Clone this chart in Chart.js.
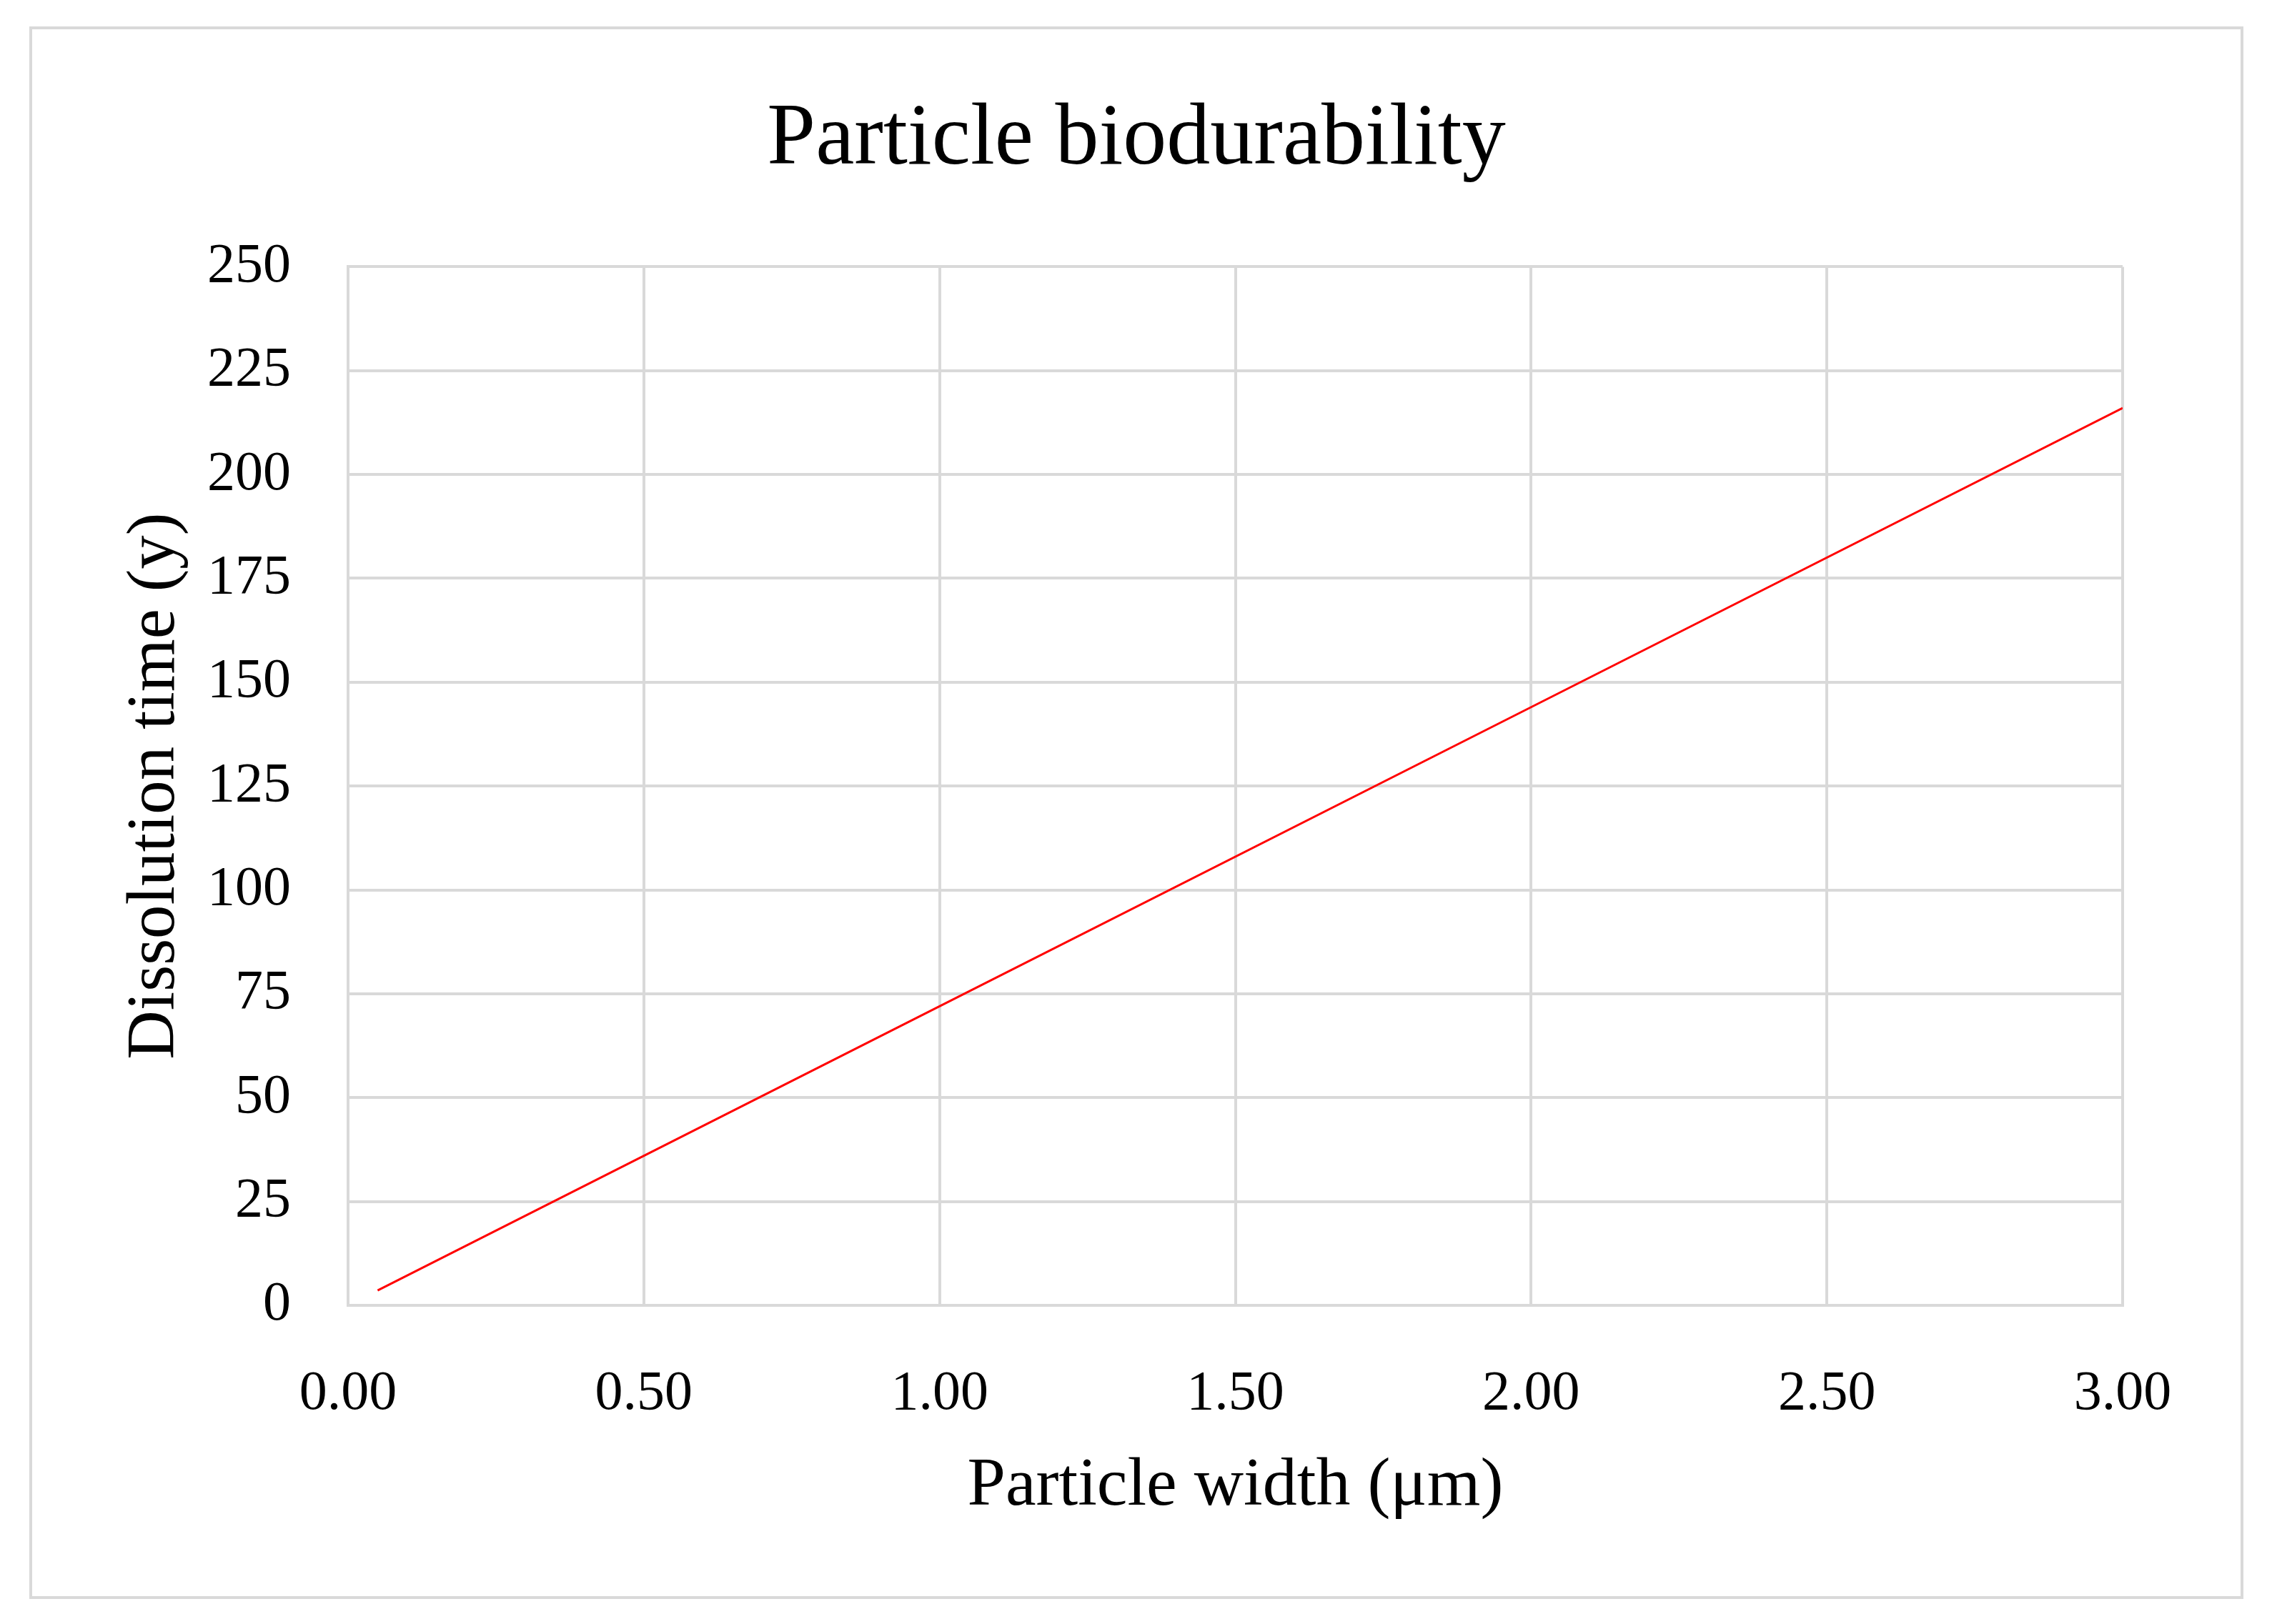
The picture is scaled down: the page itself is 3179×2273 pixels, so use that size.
<!DOCTYPE html>
<html>
<head>
<meta charset="utf-8">
<script src="https://cdn.jsdelivr.net/npm/chart.js@4"></script>
<style>
  html, body { margin: 0; padding: 0; background: #fff; }
  #frame { position: absolute; left: 41px; top: 37px; width: 3090px; height: 2193px; border: 4px solid #d9d9d9; }
</style>
</head>
<body>
<div id="frame"><canvas id="chart" width="3090" height="2193"></canvas></div>
<script>
// Values
const widths = [0.05, 1.00, 2.00, 3.00];
const dissolutionTimes = [3.6, 72, 144, 216];
const yTicks = [0, 25, 50, 75, 100, 125, 150, 175, 200, 225, 250];
const xTicks = [0, 0.5, 1, 1.5, 2, 2.5, 3];

const serif = "'Liberation Serif', 'DejaVu Serif', serif";
const gridColor = '#d9d9d9';

new Chart(document.getElementById('chart'), {
  type: 'line',
  data: {
    datasets: [{
      data: widths.map((w, i) => ({ x: w, y: dissolutionTimes[i] })),
      borderColor: '#ff0000',
      borderWidth: 3,
      pointRadius: 0,
      tension: 0,
    }],
  },
  options: {
    responsive: false,
    animation: false,
    devicePixelRatio: 1,
    layout: { padding: 0 },
    plugins: {
      legend: { display: false },
      tooltip: { enabled: false },
      title: {
        display: true,
        text: 'Particle biodurability',
        color: '#000',
        font: { family: serif, size: 122, weight: 'normal' },
        padding: { top: 83, bottom: 103 },
      },
    },
    scales: {
      x: {
        type: 'linear',
        min: 0,
        max: 3,
        afterBuildTicks: (s) => { s.ticks = xTicks.map(v => ({ value: v })); },
        afterFit: (s) => { s.height = 407; },
        grid: { color: gridColor, lineWidth: 4, drawTicks: false },
        border: { color: gridColor, width: 4 },
        ticks: {
          color: '#000',
          padding: 78,
          font: { family: serif, size: 78 },
          callback: (v) => Number(v).toFixed(2),
        },
        title: {
          display: true,
          text: 'Particle width (μm)',
          color: '#000',
          font: { family: serif, size: 96 },
          padding: { top: 0, bottom: 96 },
        },
      },
      y: {
        min: 0,
        max: 250,
        afterBuildTicks: (s) => { s.ticks = yTicks.map(v => ({ value: v })); },
        afterFit: (s) => { s.width = 442; },
        grid: { color: gridColor, lineWidth: 4, drawTicks: false },
        border: { color: gridColor, width: 4 },
        ticks: {
          color: '#000',
          padding: 80,
          font: { family: serif, size: 78 },
        },
        title: {
          display: true,
          text: 'Dissolution time (y)',
          color: '#000',
          font: { family: serif, size: 95 },
          padding: { top: 116, bottom: 0 },
        },
      },
      // empty right axis to keep the plot's right margin without shifting the title
      yRight: {
        position: 'right',
        display: true,
        afterFit: (s) => { s.width = 165; },
        grid: { display: false },
        border: { display: false },
        ticks: { display: false },
      },
    },
  },
});
</script>
</body>
</html>
